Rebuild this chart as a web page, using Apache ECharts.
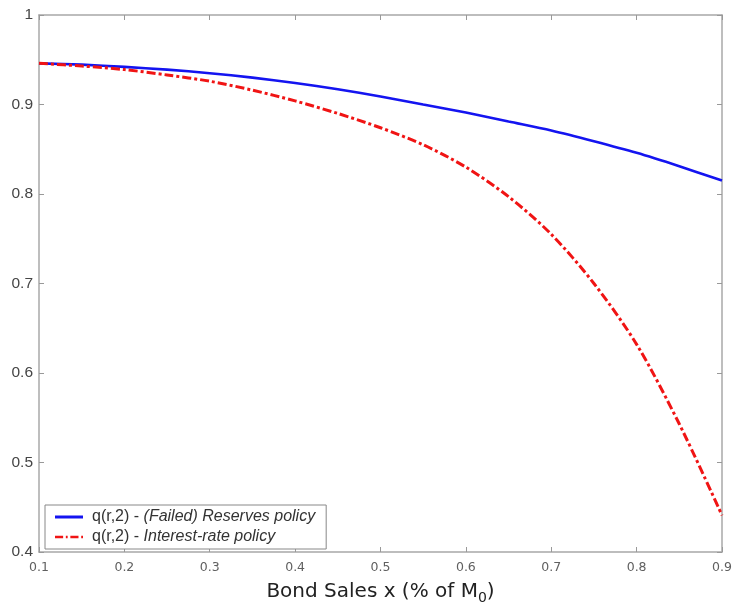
<!DOCTYPE html>
<html>
<head>
<meta charset="utf-8">
<script src="https://cdn.jsdelivr.net/npm/echarts@6/dist/echarts.min.js"></script>
<style>
html,body{margin:0;padding:0;background:#fff;}
#chart{width:734px;height:610px;}
</style>
</head>
<body>
<div id="chart"></div>
<script>
var bondSales = [0.1,0.15,0.2,0.25,0.3,0.35,0.4,0.45,0.5,0.55,0.6,0.65,0.7,0.75,0.8,0.85,0.9];
var reservesPolicy = [0.946,0.9445,0.942,0.939,0.935,0.930,0.924,0.917,0.909,0.900,0.891,0.881,0.871,0.859,0.846,0.831,0.815];
var interestRatePolicy = [0.946,0.943,0.939,0.933,0.926,0.916,0.904,0.890,0.874,0.855,0.830,0.797,0.755,0.700,0.632,0.543,0.441];
var seriesNames = ['q(r,2) - (Failed) Reserves policy','q(r,2) - Interest-rate policy'];
var xTicks = {min:0.1, max:0.9, interval:0.1};
var yTicks = {min:0.4, max:1, interval:0.1};

function zip(xs, ys){ return xs.map(function(x,i){ return [x, ys[i]]; }); }

var blue = '#1414f0', red = '#f01414';
var chart = echarts.init(document.getElementById('chart'));
var axisLineStyle = {color:'#a8a8a8', width:1.5};
var tickStyle = {show:true, inside:true, length:5, lineStyle:{color:'#999', width:1}};

chart.setOption({
  animation:false,
  backgroundColor:'#fff',
  grid:{left:39, right:12, top:15, bottom:58, containLabel:false, outerBoundsMode:'none'},
  xAxis:[{
    type:'value', min:xTicks.min, max:xTicks.max, interval:xTicks.interval,
    position:'bottom',
    axisLine:{show:true, lineStyle:axisLineStyle},
    axisTick:tickStyle,
    splitLine:{show:false},
    axisLabel:{margin:9, color:'#606060', fontSize:12.5, fontFamily:'DejaVu Sans, Verdana, sans-serif'},
    name:'Bond Sales x (% of M{sub|0})',
    nameLocation:'middle', nameGap:27,
    nameTextStyle:{fontSize:20, color:'#222', fontFamily:'DejaVu Sans, Verdana, sans-serif',
      rich:{sub:{fontSize:14, color:'#222', fontFamily:'DejaVu Sans, Verdana, sans-serif', padding:[12,0,0,0]}}}
  },{
    type:'value', min:xTicks.min, max:xTicks.max, interval:xTicks.interval,
    position:'top',
    axisLine:{show:true, lineStyle:axisLineStyle},
    axisTick:tickStyle,
    splitLine:{show:false},
    axisLabel:{show:false}
  }],
  yAxis:[{
    type:'value', min:yTicks.min, max:yTicks.max, interval:yTicks.interval,
    position:'left',
    axisLine:{show:true, lineStyle:axisLineStyle},
    axisTick:tickStyle,
    splitLine:{show:false},
    axisLabel:{margin:6, color:'#454545', fontSize:15.5, fontFamily:'Liberation Sans, Arial, sans-serif'}
  },{
    type:'value', min:yTicks.min, max:yTicks.max, interval:yTicks.interval,
    position:'right',
    axisLine:{show:true, lineStyle:axisLineStyle},
    axisTick:tickStyle,
    splitLine:{show:false},
    axisLabel:{show:false}
  }],
  legend:{
    orient:'vertical',
    left:45, top:505,
    padding:[3,11,3,10],
    itemGap:2,
    itemWidth:28, itemHeight:3,
    backgroundColor:'#fff',
    borderColor:'#888', borderWidth:1,
    textStyle:{fontSize:16, color:'#333', fontFamily:'Liberation Sans, Arial, sans-serif', lineHeight:18, padding:[0,0,0,4],
      rich:{it:{fontStyle:'italic', fontSize:16, color:'#333', fontFamily:'Liberation Sans, Arial, sans-serif', lineHeight:18}}},
    formatter:function(name){ var i = name.indexOf(' - '); return name.slice(0,i+3) + '{it|' + name.slice(i+3) + '}'; },
    data:[
      {name:seriesNames[0], icon:'rect', itemStyle:{color:blue}},
      {name:seriesNames[1], icon:'path://M0,0h9v3h-9z M12,0h2v3h-2z M17,0h9v3h-9z M29,0h2v3h-2z', itemStyle:{color:red}}
    ]
  },
  series:[{
    name:seriesNames[0], type:'line', xAxisIndex:0, yAxisIndex:0,
    data:zip(bondSales, reservesPolicy), smooth:0.3, showSymbol:false, symbol:'none',
    lineStyle:{color:blue, width:2.6, type:'solid'}, itemStyle:{color:blue}, z:3
  },{
    name:seriesNames[1], type:'line', xAxisIndex:0, yAxisIndex:0,
    data:zip(bondSales, interestRatePolicy), smooth:0.3, showSymbol:false, symbol:'none',
    lineStyle:{color:red, width:3, type:[9,3,3,3]}, itemStyle:{color:red}, z:4
  }]
});
</script>
</body>
</html>
